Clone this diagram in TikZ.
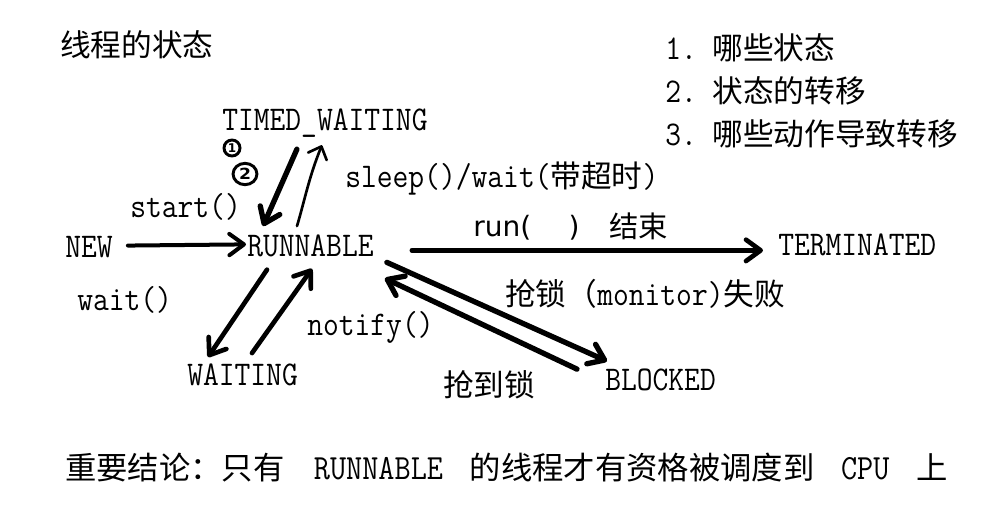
\documentclass[tikz,border=0pt]{standalone}
\usepackage{fontspec}
\usepackage{graphicx}
\newfontfamily\cjkf{Noto Sans CJK SC}
\newfontfamily\djv{DejaVu Sans}
\newcommand\latx[1]{\scalebox{1}[1.13]{#1}}
\usetikzlibrary{arrows.meta,calc}
\begin{document}
\begin{tikzpicture}[x=0.75pt,y=-0.75pt,
  lbl/.style={inner sep=0pt, anchor=base west, font=\fontsize{23}{28}\selectfont\ttfamily},
  hand/.style={inner sep=0pt, anchor=base west},
  circnum/.style={circle, draw, line width=2.2pt, inner sep=0pt, font=\djv\bfseries},
  tipv/.tip={Straight Barb[length=11pt,width=16pt,round]},
  arr/.style={line width=3.5pt, line cap=round, line join=round, -tipv},
  thinarr/.style={line width=2pt, line cap=round, line join=round, -{Straight Barb[length=8pt,width=15pt,round]}}]
\fill[white] (0,0) rectangle (1005,517);
\useasboundingbox (0,0) rectangle (1005,517);

% texts
\node[lbl] (title) at (60,57) {\cjkf 线程的状态};
\node[lbl] (l1) at (665,60) {\latx{1.}\ {\cjkf 哪些状态}};
\node[lbl] (l2) at (665,102) {\latx{2.}\ {\cjkf 状态的转移}};
\node[lbl] (l3) at (665,145) {\latx{3.}\ {\cjkf 哪些动作导致转移}};

\node[lbl] (tw) at (222,130) {\latx{TIMED\_WAITING}};
\node[lbl] (sleep) at (345,187) {\latx{sleep()/wait(}{\cjkf 带超时}\latx{)}};
\node[lbl] (start) at (130,217) {\latx{start()}};
\node[lbl] (new) at (65,257) {\latx{NEW}};
\node[lbl] (run) at (247,256) {\latx{RUNNABLE}};
\node[lbl] (term) at (778,255) {\latx{TERMINATED}};
\node[lbl] (fail) at (505,305) {{\cjkf 抢锁（}\latx{monitor)}{\cjkf 失败}};
\node[lbl] (waitl) at (77,310) {\latx{wait()}};
\node[lbl] (notify) at (307,335) {\latx{notify()}};
\node[lbl] (waiting) at (187,385) {\latx{WAITING}};
\node[lbl] (blocked) at (605,390) {\latx{BLOCKED}};
\node[lbl] (got) at (443,396) {\cjkf 抢到锁};
\node[lbl, font=\fontsize{23.5}{28}\selectfont\ttfamily] (concl) at (65,479)
  {{\cjkf 重要结论：只有}\hspace{22pt}\latx{RUNNABLE}\hspace{20pt}{\cjkf 的线程才有资格被调度到}\hspace{20pt}\latx{CPU}\hspace{20pt}{\cjkf 上}};

% handwritten annotations
\node[hand, font=\fontsize{21}{24}\selectfont\djv] (runend) at (473,236) {run(\hspace{28pt})};
\node[hand, font=\fontsize{22}{24}\selectfont\cjkf] (jieshu) at (609,237) {结束};
\node[circnum, minimum size=12pt, font=\fontsize{9}{9}\selectfont\djv\bfseries] (c1) at (232,148) {1};
\node[circnum, minimum size=16pt, xscale=1.12, font=\fontsize{11.5}{11.5}\selectfont\djv\bfseries] (c2) at (245,174) {2};

% connectors
\draw[arr, line width=3pt] ($(new.east)+(15,-1)$) -- ($(run.west)+(-1,-1)$);
\draw[arr] ($(run.east)+(38,5)$) -- ($(term.west)+(-15,6)$);
\draw[arr, line width=4pt] ($(tw.south)+(-28,12)$) -- ($(run.north west)+(16,-8)$);
\draw[thinarr] ($(run.north west)+(50,-8)$) .. controls ($(run.north west)+(58,-35)$) and ($(tw.south)+(-16,40)$) .. ($(tw.south)+(-3,8)$);
\draw[arr] ($(run.south west)+(20,13)$) -- ($(waiting.north west)+(21,-6)$);
\draw[arr] ($(waiting.north west)+(65,-10)$) -- ($(run.south west)+(65,12)$);
\draw[arr, line width=4pt] ($(run.east)+(13,17)$) -- ($(blocked.north west)+(2,-7)$);
\draw[arr, line width=4pt] ($(blocked.north west)+(-28,1)$) -- ($(run.east)+(11,33)$);
\end{tikzpicture}
\end{document}
